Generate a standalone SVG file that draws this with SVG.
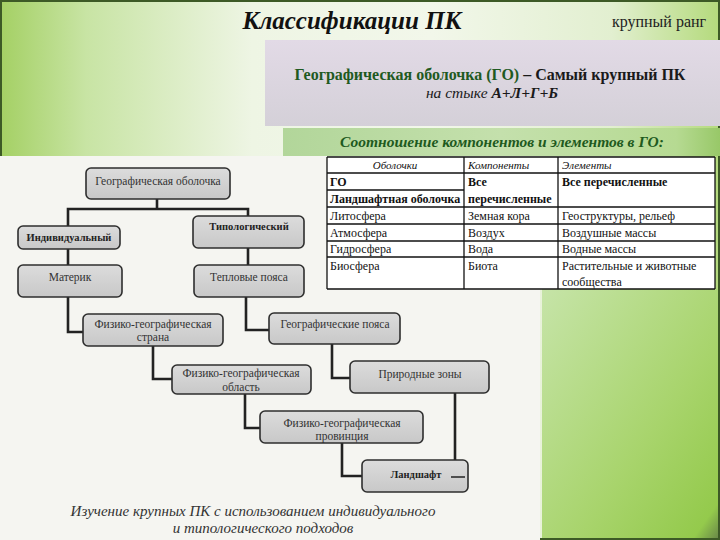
<svg xmlns="http://www.w3.org/2000/svg" width="720" height="540" viewBox="0 0 720 540" font-family="'Liberation Serif', 'Times New Roman', Tinos, 'DejaVu Serif', serif">
<defs>
<linearGradient id="bg" x1="0" y1="0" x2="1" y2="0">
<stop offset="0" stop-color="#a4d064"/>
<stop offset="0.12" stop-color="#c8e4a4"/>
<stop offset="0.35" stop-color="#eef5e4"/>
<stop offset="0.6" stop-color="#f2f7ea"/>
<stop offset="0.85" stop-color="#e2efd0"/>
<stop offset="1" stop-color="#b4da7c"/>
</linearGradient>
<linearGradient id="lav" x1="0" y1="0" x2="0" y2="1">
<stop offset="0" stop-color="#e2dae6"/>
<stop offset="1" stop-color="#d4d0d8"/>
</linearGradient>
<linearGradient id="band" x1="0" y1="0" x2="1" y2="0">
<stop offset="0" stop-color="#b2d69a"/>
<stop offset="0.5" stop-color="#c4e0ac"/>
<stop offset="0.9" stop-color="#b6da92"/>
<stop offset="1" stop-color="#98c868"/>
</linearGradient>
<linearGradient id="panel" x1="0" y1="0" x2="1" y2="1">
<stop offset="0" stop-color="#c6e4a8"/>
<stop offset="0.6" stop-color="#a8d46c"/>
<stop offset="0.93" stop-color="#94ca4c"/>
<stop offset="1" stop-color="#6a8a48"/>
</linearGradient>
<linearGradient id="box" x1="0" y1="0" x2="0" y2="1">
<stop offset="0" stop-color="#dcdcdc"/>
<stop offset="1" stop-color="#c8c8c8"/>
</linearGradient>
<style>
text{font-family:"Liberation Serif","Times New Roman",Tinos,"DejaVu Serif",serif}
.node rect{fill:url(#box);stroke:#2e2e2e;stroke-width:1.6}
.node text{font-size:11.5px;fill:#333;text-anchor:middle}
.node text.b{font-weight:bold;fill:#222;font-size:10.5px}
#connectors path{fill:none;stroke:#222;stroke-width:2.6}
.tb line{stroke:#111;stroke-width:1.3}
.tb text{font-size:12px;fill:#111}
.tb text.h{font-style:italic;font-size:11px}
.tb text.b{font-weight:bold}
</style>
</defs>

<rect x="0" y="0" width="720" height="540" fill="url(#bg)"/>
<rect x="1" y="1" width="718" height="538" fill="none" stroke="#3d5a26" stroke-width="2"/>

<text x="352" y="29" font-size="25" font-weight="bold" font-style="italic" text-anchor="middle" fill="#111">Классификации ПК</text>
<text x="659" y="27" font-size="16" text-anchor="middle" fill="#222">крупный ранг</text>

<rect x="265" y="40" width="455" height="86" fill="url(#lav)"/>
<text x="490" y="80" font-size="16" font-weight="bold" text-anchor="middle"><tspan fill="#1f5a1f">Географическая оболочка  (ГО)</tspan><tspan fill="#1a1a1a">  –  Самый крупный ПК</tspan></text>
<text x="492" y="98" font-size="15.5" font-style="italic" text-anchor="middle" fill="#1a1a1a">на стыке  <tspan font-weight="bold">А+Л+Г+Б</tspan></text>

<rect x="283" y="128" width="437" height="28" fill="url(#band)"/>
<text x="502" y="147" font-size="15.5" font-weight="bold" font-style="italic" text-anchor="middle" fill="#1e5a1e">Соотношение компонентов и элементов в ГО:</text>

<rect x="0" y="156" width="540" height="384" fill="#f5f5f1"/>
<rect x="542" y="289" width="176" height="249" fill="url(#panel)"/>

<g class="tb" id="table">
<rect x="327" y="157" width="388" height="132" fill="#ffffff"/>
<line x1="327" y1="157" x2="715" y2="157"/>
<line x1="327" y1="173" x2="715" y2="173"/>
<line x1="327" y1="190" x2="464" y2="190"/>
<line x1="327" y1="207" x2="715" y2="207"/>
<line x1="327" y1="224" x2="715" y2="224"/>
<line x1="327" y1="241" x2="715" y2="241"/>
<line x1="327" y1="257" x2="715" y2="257"/>
<line x1="327" y1="289" x2="715" y2="289"/>
<line x1="327" y1="157" x2="327" y2="289"/>
<line x1="464" y1="157" x2="464" y2="289"/>
<line x1="558" y1="157" x2="558" y2="289"/>
<line x1="715" y1="157" x2="715" y2="289"/>
<text class="h" x="395" y="169" text-anchor="middle">Оболочки</text>
<text class="h" x="468" y="169">Компоненты</text>
<text class="h" x="562" y="169">Элементы</text>
<text class="b" x="330" y="186">ГО</text>
<text class="b" x="330" y="203">Ландшафтная оболочка</text>
<text class="b" x="468" y="186">Все</text>
<text class="b" x="468" y="203">перечисленные</text>
<text class="b" x="562" y="186">Все перечисленные</text>
<text x="330" y="220">Литосфера</text>
<text x="468" y="220">Земная кора</text>
<text x="562" y="220">Геоструктуры, рельеф</text>
<text x="330" y="237">Атмосфера</text>
<text x="468" y="237">Воздух</text>
<text x="562" y="237">Воздушные массы</text>
<text x="330" y="253">Гидросфера</text>
<text x="468" y="253">Вода</text>
<text x="562" y="253">Водные массы</text>
<text x="330" y="270">Биосфера</text>
<text x="468" y="270">Биота</text>
<text x="562" y="270">Растительные и животные</text>
<text x="562" y="286">сообщества</text>
</g>

<g id="connectors">
<path d="M157 199 V209 M68 226 V209 H248 V216"/>
<path d="M68 249 V265"/>
<path d="M248 248 V265"/>
<path d="M68 297 V332 H83"/>
<path d="M246 297 V330 H269"/>
<path d="M153 346 V379 H172"/>
<path d="M332 344 V378 H350"/>
<path d="M245 394 V428 H260"/>
<path d="M342 443 V476 H362"/>
<path d="M455 393 V460"/>
</g>

<g class="node" id="n-go"><rect x="86" y="168" width="144" height="31" rx="5"/><text x="158" y="185">Географическая оболочка</text></g>
<g class="node" id="n-ind"><rect x="18" y="226" width="102" height="23" rx="5"/><text class="b" x="69" y="241">Индивидуальный</text></g>
<g class="node" id="n-typ"><rect x="193" y="216" width="111" height="32" rx="5"/><text class="b" x="249" y="230">Типологический</text></g>
<g class="node" id="n-mat"><rect x="18" y="265" width="104" height="32" rx="5"/><text x="70" y="281">Материк</text></g>
<g class="node" id="n-tep"><rect x="194" y="265" width="110" height="32" rx="5"/><text x="249" y="281">Тепловые пояса</text></g>
<g class="node" id="n-str"><rect x="83" y="314" width="140" height="32" rx="5"/><text x="153" y="328">Физико-географическая</text><text x="153" y="341">страна</text></g>
<g class="node" id="n-gp"><rect x="269" y="313" width="131" height="31" rx="5"/><text x="335" y="328">Географические пояса</text></g>
<g class="node" id="n-obl"><rect x="172" y="365" width="139" height="29" rx="5"/><text x="241" y="377">Физико-географическая</text><text x="241" y="391">область</text></g>
<g class="node" id="n-pz"><rect x="350" y="361" width="139" height="32" rx="5"/><text x="420" y="378">Природные зоны</text></g>
<g class="node" id="n-prov"><rect x="260" y="411" width="163" height="32" rx="5"/><text x="342" y="427">Физико-географическая</text><text x="342" y="440">провинция</text></g>
<g class="node" id="n-land"><rect x="362" y="460" width="106" height="32" rx="5"/><text class="b" x="416" y="478">Ландшафт</text><line x1="451" y1="477" x2="465" y2="477" stroke="#222" stroke-width="1.5"/></g>

<text x="253" y="516" font-size="15" font-style="italic" text-anchor="middle" fill="#333">Изучение крупных ПК с использованием индивидуального</text>
<text x="263" y="533" font-size="15" font-style="italic" text-anchor="middle" fill="#333">и типологического подходов</text>
</svg>
